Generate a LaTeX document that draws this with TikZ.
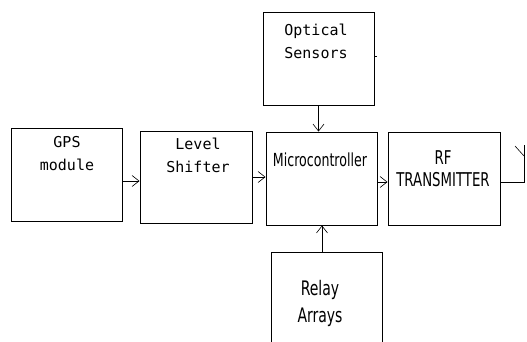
\documentclass[tikz,border=0pt]{standalone}
\usepackage{fontspec}
\usepackage{tikz}
\usetikzlibrary{calc,arrows.meta}
\newfontfamily\monofont{DejaVu Sans Mono}
\newfontfamily\narrowfont[FakeStretch=0.7]{DejaVu Sans}
\tikzset{
	blockbox/.style={draw, line width=0.9pt, minimum width=111pt, minimum height=93pt, inner sep=0pt},
	monotext/.style={font=\monofont\fontsize{15}{23}\selectfont, align=center, inner sep=0pt},
	sanstext/.style={font=\narrowfont\fontsize{18}{22}\selectfont, align=center, inner sep=0pt},
	arr/.style={line width=0.6pt, -{Straight Barb[length=7pt,width=11pt]}},
	wire/.style={line width=0.9pt}
}

\begin{document}
\begin{tikzpicture}[x=1pt, y=-1pt]
			%%%%% START %%%%%
			\useasboundingbox (0, 0) rectangle (527, 342);
			\clip (0, 0) rectangle (527, 342);
			
			\node[blockbox] (optical) at (318.5, 59) {};
			\node[blockbox] (gps) at (66.5, 174.5) {};
			\node[blockbox, minimum width=112pt, minimum height=92pt] (level) at (196, 177) {};
			\node[blockbox] (micro) at (321.5, 178.5) {};
			\node[blockbox, minimum width=112pt] (rf) at (444, 178.5) {};
			\node[blockbox] (relay) at (326.5, 298.5) {};
			
			\node[monotext] (opticaltxt) at (316, 41.5) {Optical\\Sensors};
			\node[monotext] (gpstxt) at (67, 153.5) {GPS\\module};
			\node[monotext] (leveltxt) at (198, 155) {Level\\Shifter};
			\node[sanstext] (microtxt) at (320, 160) {Microcontroller};
			\node[sanstext, font=\narrowfont\fontsize{19}{22}\selectfont] (rftxt) at (443, 169) {RF\\TRANSMITTER};
			\node[sanstext, font=\narrowfont\fontsize{20}{27}\selectfont] (relaytxt) at (320, 303.5) {Relay\\Arrays};
			
			\draw[arr] (optical.south) -- (optical.south |- micro.north);
			\draw[arr] ([yshift=-6.5pt]gps.east) -- ([yshift=-6.5pt]gps.east -| level.west);
			\draw[arr] (level.east) -- (level.east -| micro.west);
			\draw[arr] ([yshift=-3.5pt]micro.east) -- ([yshift=-3.5pt]micro.east -| rf.west);
			\draw[arr] ([xshift=-4.5pt]relay.north) -- ([xshift=-4.5pt]relay.north |- micro.south);
			
			% antenna
			\coordinate (antbase) at (524, 182);
			\coordinate (anttop) at (524, 145);
			\draw[wire] ([yshift=-3.5pt]rf.east) -- (antbase) -- (anttop);
			\draw[line width=0.6pt] (515, 146) -- (524, 156);
			
			\draw[line width=0.6pt] (optical.east |- 0, 56) -- +(3, 0);
			%%%%% END %%%%%
\end{tikzpicture}
\end{document}
